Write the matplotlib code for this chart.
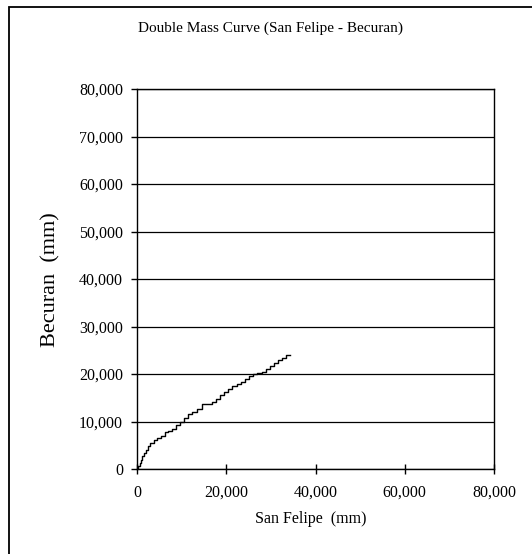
import matplotlib.pyplot as plt
from matplotlib.patches import Rectangle
from matplotlib.ticker import FuncFormatter

# Cumulative rainfall (mm)
san_felipe = [0, 300, 600, 900, 1200, 1600, 2000, 2500, 3000, 3700, 4500, 5300,
              6200, 7000, 7900, 8800, 9600, 10500, 11400, 12300, 13500, 14500,
              15600, 16700, 17600, 18500, 19400, 20400, 21400, 22300, 23200,
              24100, 25000, 25900, 26900, 27900, 28900, 29800, 30700, 31600,
              32500, 33400, 34200]
becuran = [0, 600, 1300, 2000, 2700, 3400, 4100, 4800, 5500, 6200, 6500, 7000,
           7700, 8100, 8500, 9200, 10000, 10700, 11500, 12100, 12700, 13600,
           13700, 14100, 14800, 15600, 16300, 16800, 17400, 17900, 18400,
           18900, 19500, 20100, 20200, 20500, 21100, 21700, 22400, 23000,
           23400, 23900, 24100]

ticks = [0, 20000, 40000, 60000, 80000]
yticks = [0, 10000, 20000, 30000, 40000, 50000, 60000, 70000, 80000]

plt.rcParams['font.family'] = ['Liberation Serif', 'DejaVu Serif']

fig = plt.figure(figsize=(5.32, 5.54), dpi=100)

# outer chart frame (cut off at right and bottom)
fig.patches.append(Rectangle((9 / 532, -0.1), 1.2, (554 - 7) / 554 + 0.1,
                             transform=fig.transFigure, fill=False,
                             edgecolor='black', linewidth=1.3))

ax = fig.add_axes([137 / 532, 85 / 554, 357 / 532, 380 / 554])
ax.plot(san_felipe, becuran, drawstyle='steps-post', color='black', linewidth=1.0)

ax.set_xlim(0, 80000)
ax.set_ylim(0, 80000)
ax.set_xticks(ticks)
ax.set_yticks(yticks)
fmt = FuncFormatter(lambda v, p: f'{int(v):,}')
ax.xaxis.set_major_formatter(fmt)
ax.yaxis.set_major_formatter(fmt)
ax.tick_params(axis='x', direction='inout', length=7, width=1, pad=8, labelsize=11.5)
ax.tick_params(axis='y', direction='out', length=4, width=1, pad=6, labelsize=11.5)
ax.grid(axis='y', color='black', linewidth=0.9)
ax.set_axisbelow(True)
for s in ax.spines.values():
    s.set_linewidth(1)
    s.set_color('black')

fig.text(270 / 532, 1 - 28 / 554, 'Double Mass Curve (San Felipe - Becuran)',
         ha='center', va='center', fontsize=11)
fig.text(311 / 532, 1 - 519 / 554, 'San Felipe  (mm)', ha='center', va='center',
         fontsize=11.5)
fig.text(51 / 532, 1 - 280 / 554, 'Becuran  (mm)', ha='center', va='center',
         rotation=90, fontsize=16)

plt.savefig('out.png', dpi=100)
